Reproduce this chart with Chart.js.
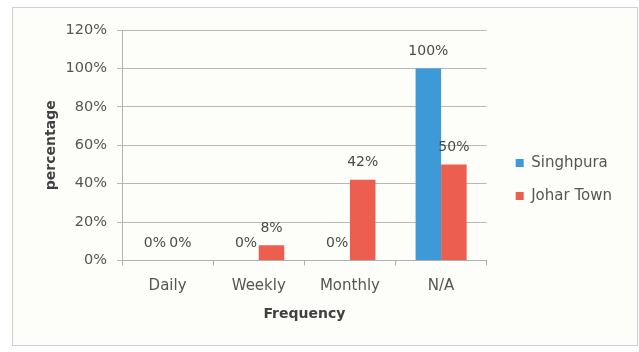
<!DOCTYPE html>
<html>
<head>
<meta charset="utf-8">
<script src="https://cdn.jsdelivr.net/npm/chart.js@4"></script>
<style>
  html, body { margin: 0; padding: 0; background: #ffffff; }
  #wrap { width: 639px; height: 352px; }
</style>
</head>
<body>
<div id="wrap"><canvas id="graficaFrecuencia" width="639" height="352"></canvas></div>
<script>
// datos
const categorias = ['Daily', 'Weekly', 'Monthly', 'N/A'];
const singhpura = [0, 0, 0, 100];
const joharTown = [0, 8, 42, 50];
const ticksY = [0, 20, 40, 60, 80, 100, 120];

const fuente = 'DejaVu Sans';

// marco gris alrededor del grafico
const marco = {
    id: 'marco',
    beforeDraw(chart) {
        const c = chart.ctx;
        c.save();
        c.fillStyle = '#fdfdfa';
        c.fillRect(12, 7, 625, 338);
        c.strokeStyle = '#cfcfcf';
        c.lineWidth = 1;
        c.strokeRect(12.5, 7.5, 625, 338);
        c.restore();
    }
};

// separa la leyenda del area de barras
const separarLeyenda = {
    id: 'separarLeyenda',
    afterLayout(chart) {
        chart.legend.left += 11;
        chart.legend.right += 11;
    }
};

// etiquetas de porcentaje sobre cada barra
const etiquetas = {
    id: 'etiquetas',
    afterDatasetsDraw(chart) {
        const c = chart.ctx;
        c.save();
        c.font = '14px "' + fuente + '"';
        c.fillStyle = '#4a4a4a';
        c.textAlign = 'center';
        c.textBaseline = 'middle';
        chart.data.datasets.forEach((ds, i) => {
            chart.getDatasetMeta(i).data.forEach((barra, j) => {
                c.fillText(ds.data[j] + '%', barra.x, barra.y - 17);
            });
        });
        c.restore();
    }
};

const ctx = document.getElementById('graficaFrecuencia').getContext('2d');
const grafica = new Chart(ctx, {
    type: 'bar',
    data: {
        labels: categorias,
        datasets: [
            {
                label: 'Singhpura',
                data: singhpura,
                backgroundColor: '#3d9ad6',
                categoryPercentage: 0.56,
                barPercentage: 1.0
            },
            {
                label: 'Johar Town',
                data: joharTown,
                backgroundColor: '#ec5f4f',
                categoryPercentage: 0.56,
                barPercentage: 1.0
            }
        ]
    },
    options: {
        responsive: false,
        animation: false,
        layout: { padding: { left: 13, right: 28, top: 30, bottom: 23 } },
        plugins: {
            legend: {
                position: 'right',
                labels: {
                    boxWidth: 8,
                    boxHeight: 8,
                    padding: 18,
                    color: '#555555',
                    font: { family: fuente, size: 15 }
                }
            },
            tooltip: { enabled: false }
        },
        scales: {
            x: {
                grid: { drawOnChartArea: false, drawTicks: true, tickLength: 5, color: '#b0b0b0' },
                border: { color: '#b0b0b0' },
                ticks: { color: '#555555', padding: 12, font: { family: fuente, size: 15 } },
                title: {
                    display: true,
                    text: 'Frequency',
                    color: '#404040',
                    font: { family: fuente, size: 14, weight: 'bold' },
                    padding: { top: 4, bottom: 6 }
                },
                afterFit(s) { s.height = 68.5; }
            },
            y: {
                min: 0,
                max: 120,
                afterBuildTicks(s) { s.ticks = ticksY.map(v => ({ value: v })); },
                grid: { color: '#b8b8b8', tickLength: 5 },
                border: { color: '#b0b0b0' },
                ticks: {
                    color: '#555555',
                    padding: 10,
                    font: { family: fuente, size: 14.5 },
                    callback: v => v + '%'
                },
                title: {
                    display: true,
                    text: 'percentage',
                    color: '#404040',
                    font: { family: fuente, size: 14, weight: 'bold' },
                    padding: { top: 30, bottom: 0 }
                },
                afterFit(s) { s.width = 109; }
            }
        }
    },
    plugins: [marco, separarLeyenda, etiquetas]
});
</script>
</body>
</html>
